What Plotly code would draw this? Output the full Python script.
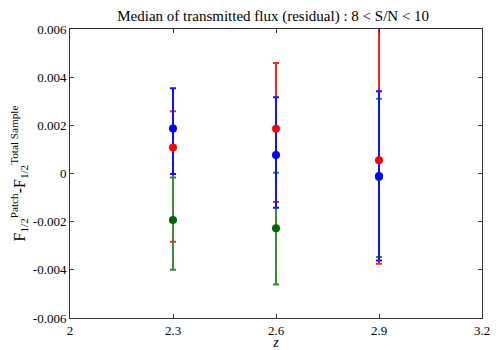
import plotly.graph_objects as go

z = [2.3, 2.6, 2.9]

red_y = [0.00108, 0.00186, 0.00055]
red_plus = [0.00150, 0.00273, 0.00600]
red_minus = [0.00391, 0.00304, 0.00430]

green_y = [-0.00193, -0.00227, -0.00015]
green_plus = [0.00176, 0.00230, 0.00325]
green_minus = [0.00207, 0.00234, 0.00332]

blue_y = [0.00187, 0.00077, -0.00010]
blue_plus = [0.00167, 0.00240, 0.00352]
blue_minus = [0.00189, 0.00219, 0.00351]

x_ticks = [2, 2.3, 2.6, 2.9, 3.2]
x_ticklabels = ["2", "2.3", "2.6", "2.9", "3.2"]
y_ticks = [-0.006, -0.004, -0.002, 0, 0.002, 0.004, 0.006]
y_ticklabels = ["-0.006", "-0.004", "-0.002", "0", "0.002", "0.004", "0.006"]

series = [
    (red_y, red_plus, red_minus, "#ff0000", "#ff2020"),
    (green_y, green_plus, green_minus, "#006400", "#3a8a3a"),
    (blue_y, blue_plus, blue_minus, "#0000ff", "#1010ff"),
]

FONT = "Liberation Serif, serif"

fig = go.Figure()
for y, ep, em, mc, bc in series:
    fig.add_trace(go.Scatter(
        x=z, y=y, mode="markers",
        marker=dict(size=1, color=mc, opacity=0),
        error_y=dict(type="data", symmetric=False, array=ep, arrayminus=em,
                     color=bc, thickness=2, width=3),
        showlegend=False, hoverinfo="skip",
    ))
for y, ep, em, mc, bc in series:
    fig.add_trace(go.Scatter(
        x=z, y=y, mode="markers",
        marker=dict(size=8, color=mc, line=dict(width=0)),
        showlegend=False,
    ))

axis_common = dict(
    showgrid=False, zeroline=False, showline=True, linecolor="#333333",
    linewidth=1, mirror="ticks", ticks="inside", ticklen=4, tickcolor="#333333",
    tickfont=dict(family=FONT, size=13, color="black"), automargin=False,
)

# the page body has an 8px margin, so the figure is sized/offset to compensate
fig.update_layout(
    width=492, height=342,
    margin=dict(l=62, r=18, t=21, b=32),
    paper_bgcolor="white", plot_bgcolor="white",
    font=dict(family=FONT, color="black"),
    title=dict(text="Median of transmitted flux (residual) : 8 < S/N < 10",
               x=0.539, xanchor="center", y=0.978, yanchor="middle",
               yref="container", automargin=False,
               font=dict(family=FONT, size=15, color="black")),
    xaxis=dict(range=[2, 3.2], tickvals=x_ticks, ticktext=x_ticklabels,
               title=dict(text="<i>z</i>", font=dict(family=FONT, size=14), standoff=0),
               **axis_common),
    yaxis=dict(range=[-0.006, 0.006], tickvals=y_ticks, ticktext=y_ticklabels,
               title=dict(text="F<sub>1/2</sub><sup>Patch</sup>-F<sub>1/2</sub><sup>Total Sample</sup>",
                          font=dict(family=FONT, size=16), standoff=6),
               **axis_common),
)

fig.write_html("out.html")
